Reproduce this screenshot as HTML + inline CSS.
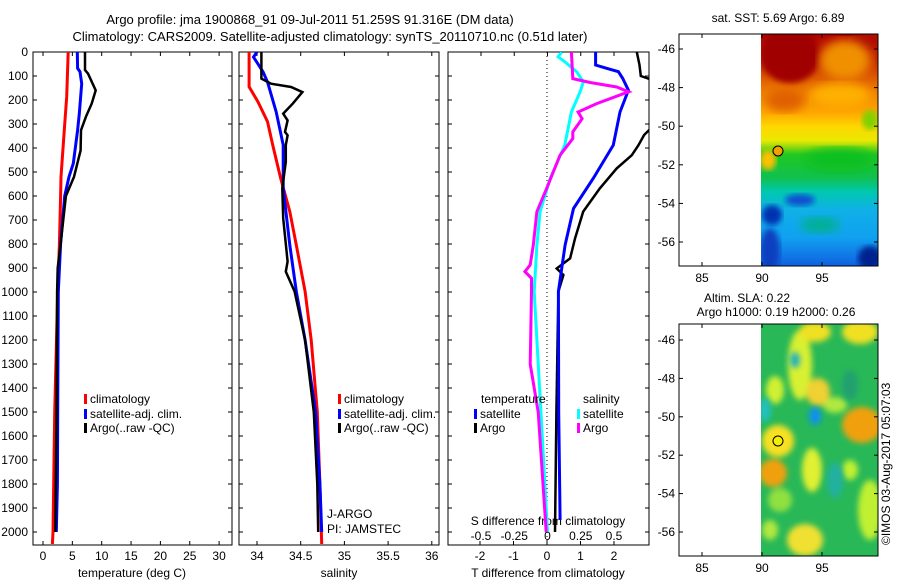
<!DOCTYPE html>
<html><head><meta charset="utf-8"><style>
html,body{margin:0;padding:0;background:#fff}
svg{display:block;font-family:"Liberation Sans",sans-serif}
</style></head><body>
<svg id="c" width="900" height="580" viewBox="0 0 900 580" xmlns="http://www.w3.org/2000/svg">
<defs>
<linearGradient id="sst" x1="0" y1="0" x2="0" y2="1">
<stop offset="0" stop-color="#b00000"/><stop offset="0.15" stop-color="#d04000"/>
<stop offset="0.25" stop-color="#f08000"/><stop offset="0.34" stop-color="#ffa800"/>
<stop offset="0.4" stop-color="#ffd800"/><stop offset="0.46" stop-color="#e8e800"/>
<stop offset="0.52" stop-color="#20c820"/><stop offset="0.62" stop-color="#10c050"/>
<stop offset="0.68" stop-color="#00c8b0"/><stop offset="0.76" stop-color="#10b0e8"/>
<stop offset="0.88" stop-color="#10a0f0"/>
<stop offset="1" stop-color="#1060e0"/></linearGradient>
<filter id="bl"><feGaussianBlur stdDeviation="5"/></filter>
<filter id="bl2"><feGaussianBlur stdDeviation="3"/></filter>
<clipPath id="cp1"><rect x="33" y="52" width="199" height="493"/></clipPath>
<clipPath id="cp2"><rect x="239" y="52" width="200" height="493"/></clipPath>
<clipPath id="cp3"><rect x="448" y="52" width="201" height="493"/></clipPath>
<clipPath id="cm1"><rect x="761" y="34" width="117" height="232"/></clipPath>
<clipPath id="cm2"><rect x="761" y="324" width="117" height="232"/></clipPath>
</defs>
<text x="310" y="24" font-size="13" text-anchor="middle">Argo profile: jma 1900868_91 09-Jul-2011 51.259S 91.316E (DM data)</text>
<text x="330" y="41" font-size="13" text-anchor="middle">Climatology: CARS2009. Satellite-adjusted climatology: synTS_20110710.nc (0.51d later)</text>

<g>
<text x="778" y="22" font-size="12" text-anchor="middle">sat. SST: 5.69 Argo: 6.89</text>
<g clip-path="url(#cm1)">
<rect x="761" y="34" width="117" height="232" fill="url(#sst)"/>
<ellipse cx="790" cy="55" rx="30" ry="28" fill="#a00000" filter="url(#bl2)"/>
<ellipse cx="865" cy="40" rx="18" ry="8" fill="#b01000" filter="url(#bl2)"/>
<ellipse cx="845" cy="60" rx="25" ry="20" fill="#f09000" filter="url(#bl)"/>
<ellipse cx="840" cy="95" rx="30" ry="12" fill="#ffb000" filter="url(#bl)"/>
<ellipse cx="785" cy="100" rx="20" ry="12" fill="#e06000" filter="url(#bl)"/>
<ellipse cx="870" cy="120" rx="8" ry="10" fill="#80d000" filter="url(#bl2)"/>
<ellipse cx="840" cy="160" rx="35" ry="12" fill="#10c020" filter="url(#bl)"/>
<ellipse cx="768" cy="160" rx="8" ry="10" fill="#ffc000" filter="url(#bl2)"/>
<ellipse cx="770" cy="250" rx="10" ry="22" fill="#1040c0" filter="url(#bl2)"/>
<ellipse cx="772" cy="215" rx="10" ry="10" fill="#0030b0" filter="url(#bl2)"/>
<ellipse cx="870" cy="258" rx="12" ry="12" fill="#002090" filter="url(#bl2)"/>
<ellipse cx="800" cy="200" rx="15" ry="6" fill="#1050d0" filter="url(#bl2)"/>
<ellipse cx="820" cy="225" rx="20" ry="8" fill="#00b090" filter="url(#bl)"/>
</g>
<circle cx="778" cy="151" r="5" fill="#f0a000" stroke="#000" stroke-width="1"/>
<rect x="679" y="34" width="199" height="232" fill="none" stroke="#000" stroke-width="1"/>
</g>

<g>
<text x="747" y="302" font-size="12" text-anchor="middle">Altim. SLA: 0.22</text>
<text x="776" y="316" font-size="12" text-anchor="middle">Argo h1000: 0.19 h2000: 0.26</text>
<g clip-path="url(#cm2)">
<rect x="761" y="324" width="117" height="232" fill="#28b858"/>
<g filter="url(#bl2)">
<ellipse cx="800" cy="365" rx="12" ry="35" fill="#d8f030"/>
<ellipse cx="815" cy="332" rx="16" ry="10" fill="#f0e020"/>
<ellipse cx="860" cy="332" rx="18" ry="12" fill="#f0e020"/>
<ellipse cx="835" cy="405" rx="12" ry="8" fill="#b0e840"/>
<ellipse cx="818" cy="392" rx="12" ry="14" fill="#f0d030"/>
<ellipse cx="775" cy="390" rx="9" ry="14" fill="#d0f030"/>
<ellipse cx="778" cy="441" rx="16" ry="16" fill="#f8e020"/>
<ellipse cx="773" cy="473" rx="14" ry="14" fill="#f0a010"/>
<ellipse cx="862" cy="425" rx="20" ry="18" fill="#f0a010"/>
<ellipse cx="812" cy="470" rx="10" ry="22" fill="#e0f030"/>
<ellipse cx="805" cy="540" rx="18" ry="16" fill="#f0e030"/>
<ellipse cx="870" cy="510" rx="12" ry="30" fill="#c0f030"/>
<ellipse cx="780" cy="500" rx="12" ry="12" fill="#90e040"/>
<ellipse cx="850" cy="470" rx="8" ry="10" fill="#c0f030"/>
<ellipse cx="770" cy="530" rx="8" ry="10" fill="#b0e840"/>
</g>
<g filter="url(#bl2)">
<ellipse cx="815" cy="416" rx="6" ry="9" fill="#1090f0"/>
<ellipse cx="795" cy="360" rx="5" ry="8" fill="#20b0c0"/>
<ellipse cx="765" cy="410" rx="6" ry="12" fill="#20c0c0"/>
<ellipse cx="835" cy="480" rx="8" ry="18" fill="#20b0a0"/>
<ellipse cx="850" cy="385" rx="8" ry="15" fill="#20a070"/>
</g>
</g>
<circle cx="778" cy="441" r="5" fill="#f0f000" stroke="#000" stroke-width="1"/>
<rect x="679" y="324" width="199" height="232" fill="none" stroke="#000" stroke-width="1"/>
<text transform="translate(890,545) rotate(-90)" font-size="12">©IMOS 03-Aug-2017 05:07:03</text>
</g>
<g id="dyn"></g>
</svg>
<script>
// ---- data ----
const tClimDepth = [0,186,325,520,600,800,1000,1500,2000,2050];
const tClimVal   = [4.3,4.03,3.63,3.07,3.0,2.8,2.5,2.0,1.7,1.6];
const tSatDepth  = [0,68,82,132,257,326,464,520,600,800,1000,1500,1800,2000];
const tSatVal    = [5.85,5.9,6.3,6.6,6.19,5.9,5.17,4.43,3.7,3.0,2.6,2.5,2.45,2.27];
const tArgoDepth = [0,75,90,160,215,270,326,410,520,600,800,900,1000,1500,2000];
const tArgoVal   = [7.15,7.15,7.66,8.98,8.3,7.3,6.47,6.4,5.28,3.9,3.0,2.5,2.4,2.3,2.1];

const sClimDepth = [0,145,207,290,387,525,665,804,998,1200,1500,1800,2050];
const sClimVal   = [33.91,33.91,34.01,34.12,34.18,34.27,34.375,34.45,34.55,34.62,34.69,34.72,34.74];
const sSatDepth  = [0,21,83,125,250,387,568,804,998,1200,1500,1800,2000];
const sSatVal    = [34.0,33.96,34.07,34.12,34.22,34.3,34.3,34.375,34.45,34.55,34.67,34.72,34.74];
const sArgoDepth = [0,111,132,146,167,215,257,285,333,347,388,457,568,693,873,915,998,1200,1500,1800,2000];
const sArgoVal   = [34.05,34.05,34.16,34.39,34.52,34.41,34.3,34.35,34.32,34.35,34.33,34.33,34.29,34.3,34.35,34.33,34.43,34.55,34.65,34.69,34.7];

const dtSatDepth  = [0,54,68,82,110,159,250,388,527,652,804,998,1500,1950];
const dtSatVal    = [1.45,1.45,1.78,2.13,2.26,2.43,2.18,1.98,1.38,0.79,0.54,0.34,0.35,0.39];
const dtArgoDepth = [0,54,100,124,318,346,388,430,485,568,665,776,860,902,929,998,1500,2000];
const dtArgoVal   = [2.68,2.76,2.8,3.3,3.1,2.9,2.73,2.53,2.08,1.58,1.08,0.84,0.69,0.29,0.49,0.34,0.28,0.24];
const dsSatDepth  = [0,20,41,83,124,166,250,388,527,665,804,998,1500,2000];
const dsSatVal    = [0.107,0.08,0.13,0.22,0.27,0.245,0.18,0.13,0.02,-0.056,-0.08,-0.1,-0.05,0.0];
const dsArgoDepth = [0,111,127,146,166,215,250,278,333,361,430,568,665,804,887,915,943,998,1300,1500,2000];
const dsArgoVal   = [0.18,0.19,0.32,0.52,0.61,0.37,0.23,0.26,0.19,0.19,0.094,-0.006,-0.08,-0.107,-0.13,-0.17,-0.12,-0.12,-0.13,-0.07,-0.01];

const depthTicks = [0,100,200,300,400,500,600,700,800,900,1000,1100,1200,1300,1400,1500,1600,1700,1800,1900,2000];
const tTicks = [0,5,10,15,20,25,30];
const sTicks = [34,34.5,35,35.5,36];
const sTickLabels = ['34','34.5','35','35.5','36'];
const dtTicks = [-2,-1,0,1,2];
const dsTicks = [-0.5,-0.25,0,0.25,0.5];
const dsTickLabels = ['-0.5','-0.25','0','0.25','0.5'];
const latTicks = [-46,-48,-50,-52,-54,-56];
const lonTicks = [85,90,95];

// ---- scales ----
const NS='http://www.w3.org/2000/svg';
const yD = d => 52 + d*0.24;
const xT = t => 43 + t*5.87;
const xS = s => 257 + (s-34)*87.4;
const xDT = t => 547 + t*33.5;
const xDS = s => 547.5 + s*133;
const yLat = l => 49 + (-46 - l)*19.3;
const yLat2 = l => 340 + (-46 - l)*19.2;
const xLon = l => 702 + (l-85)*12;
const root = document.getElementById('dyn');
function mk(tag, attrs, parent){const e=document.createElementNS(NS,tag);for(const k in attrs)e.setAttribute(k,attrs[k]);(parent||root).appendChild(e);return e;}
function line(depths, vals, xf, color, w, clip, name){
  const pts = depths.map((d,i)=>xf(vals[i]).toFixed(1)+','+yD(d).toFixed(1)).join(' ');
  const p = mk('polyline',{points:pts,fill:'none',stroke:color,'stroke-width':w,'clip-path':'url(#'+clip+')','stroke-linejoin':'miter'});
  
  
}
function txt(x,y,s,anchor,size,name){
  const t = mk('text',{x:x,y:y,'font-size':size||12,'text-anchor':anchor||'start'});
  t.textContent=s;
  
  
  return t;
}
function frame(x,w,name){
  const r = mk('rect',{x:x,y:52,width:w,height:493,fill:'none',stroke:'#000','stroke-width':1});
  
  
  depthTicks.forEach(d=>{
    mk('line',{x1:x,x2:x+4,y1:yD(d),y2:yD(d),stroke:'#000'});
    mk('line',{x1:x+w-4,x2:x+w,y1:yD(d),y2:yD(d),stroke:'#000'});
  });
}
// panel 1
frame(33,199,'temperature-panel-frame');
depthTicks.forEach(d=>txt(28,yD(d)+4,String(d),'end',12,'depth-tick-label'));
tTicks.forEach(t=>{mk('line',{x1:xT(t),x2:xT(t),y1:545,y2:541,stroke:'#000'});mk('line',{x1:xT(t),x2:xT(t),y1:52,y2:56,stroke:'#000'});txt(xT(t),560,String(t),'middle',12,'temperature-tick-label');});
txt(132,577,'temperature (deg C)','middle',12,'temperature-axis-title');
line(tClimDepth,tClimVal,xT,'#ff0000',3,'cp1','temperature-climatology-line');
line(tSatDepth,tSatVal,xT,'#0000ff',3,'cp1','temperature-satellite-line');
line(tArgoDepth,tArgoVal,xT,'#000000',2.5,'cp1','temperature-argo-line');
// panel 2
frame(239,200,'salinity-panel-frame');
sTicks.forEach((s,i)=>{mk('line',{x1:xS(s),x2:xS(s),y1:545,y2:541,stroke:'#000'});mk('line',{x1:xS(s),x2:xS(s),y1:52,y2:56,stroke:'#000'});txt(xS(s),560,sTickLabels[i],'middle',12,'salinity-tick-label');});
txt(339,577,'salinity','middle',12,'salinity-axis-title');
line(sClimDepth,sClimVal,xS,'#ff0000',3,'cp2','salinity-climatology-line');
line(sSatDepth,sSatVal,xS,'#0000ff',3,'cp2','salinity-satellite-line');
line(sArgoDepth,sArgoVal,xS,'#000000',2.5,'cp2','salinity-argo-line');
txt(327,518,'J-ARGO','start',12,'float-program-label');
txt(327,533,'PI: JAMSTEC','start',12,'float-pi-label');
// panel 3
frame(448,201,'difference-panel-frame');
mk('line',{x1:xDT(0),x2:xDT(0),y1:52,y2:545,stroke:'#000','stroke-dasharray':'1,3'});
dtTicks.forEach(t=>{mk('line',{x1:xDT(t),x2:xDT(t),y1:545,y2:541,stroke:'#000'});txt(xDT(t),560,String(t),'middle',12,'t-diff-tick-label');});
dsTicks.forEach((s,i)=>{mk('line',{x1:xDS(s),x2:xDS(s),y1:52,y2:56,stroke:'#000'});txt(xDS(s),540,dsTickLabels[i],'middle',12,'s-diff-tick-label');});
txt(548,525,'S difference from climatology','middle',12,'s-diff-axis-title');
txt(548,577,'T difference from climatology','middle',12,'t-diff-axis-title');
line(dtArgoDepth,dtArgoVal,xDT,'#000000',2.5,'cp3','t-diff-argo-line');
line(dtSatDepth,dtSatVal,xDT,'#0000ff',3,'cp3','t-diff-satellite-line');
line(dsSatDepth,dsSatVal,xDS,'#00ffff',3,'cp3','s-diff-satellite-line');
line(dsArgoDepth,dsArgoVal,xDS,'#ff00ff',3,'cp3','s-diff-argo-line');
// legends
function leg(x,y,color,label,name){
  const r=mk('rect',{x:x,y:y-9,width:3,height:10,fill:color});
  
  
  txt(x+6,y,label,'start',12,name);
}
leg(84,403,'#ff0000','climatology','legend-climatology');
leg(84,418,'#0000ff','satellite-adj. clim.','legend-satellite');
leg(84,432,'#000000','Argo(..raw -QC)','legend-argo');
leg(338,403,'#ff0000','climatology','legend-climatology-2');
leg(338,418,'#0000ff','satellite-adj. clim.','legend-satellite-2');
leg(338,432,'#000000','Argo(..raw -QC)','legend-argo-2');
txt(481,403,'temperature','start',12,'legend-temperature-heading');
txt(583,403,'salinity','start',12,'legend-salinity-heading');
leg(474,418,'#0000ff','satellite','legend-t-satellite');
leg(474,432,'#000000','Argo','legend-t-argo');
leg(577,418,'#00ffff','satellite','legend-s-satellite');
leg(577,432,'#ff00ff','Argo','legend-s-argo');
// map axes
[[yLat,34,266,282],[yLat2,324,556,572]].forEach(([yf,top,bot,ly],mi)=>{
  latTicks.forEach(l=>{mk('line',{x1:679,x2:683,y1:yf(l),y2:yf(l),stroke:'#000'});mk('line',{x1:874,x2:878,y1:yf(l),y2:yf(l),stroke:'#000'});txt(675,yf(l)+4,String(l),'end',12,'map-lat-tick-label');});
  lonTicks.forEach(l=>{mk('line',{x1:xLon(l),x2:xLon(l),y1:bot,y2:bot-4,stroke:'#000'});mk('line',{x1:xLon(l),x2:xLon(l),y1:top,y2:top+4,stroke:'#000'});txt(xLon(l),ly,String(l),'middle',12,'map-lon-tick-label');});
});
</script>
</body></html>
